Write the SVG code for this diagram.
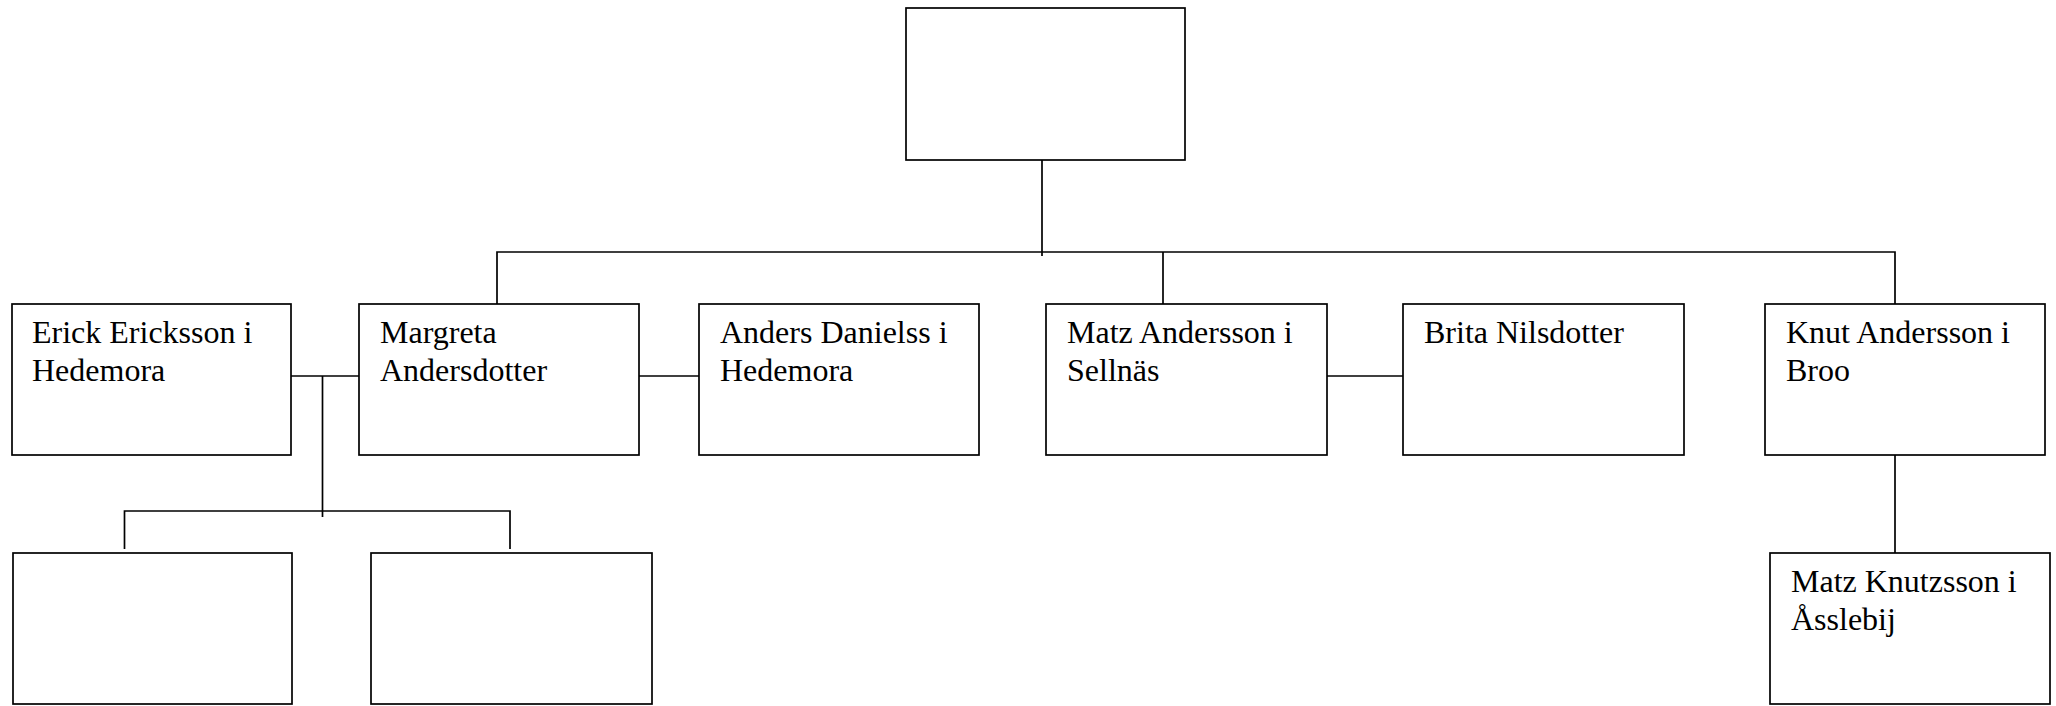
<svg xmlns="http://www.w3.org/2000/svg" width="2056" height="706" viewBox="0 0 2056 706">
<style>
.box{fill:#fff;stroke:#000;stroke-width:1.7}
.ln{fill:none;stroke:#000;stroke-width:1.7}
.t{font-family:"Liberation Serif","Times New Roman",serif;font-size:32px;fill:#000}
</style>
<rect width="2056" height="706" fill="#fff"/>
<g id="connectors">
<path class="ln" d="M1042 155V256"/>
<path class="ln" d="M497 304V252H1895V304"/>
<path class="ln" d="M1163 252V304"/>
<path class="ln" d="M291 376H359"/>
<path class="ln" d="M639 376H699"/>
<path class="ln" d="M1327 376H1403"/>
<path class="ln" d="M322.5 376V517"/>
<path class="ln" d="M124.5 549V511H510V549"/>
<path class="ln" d="M1895 450V553"/>
</g>
<g id="root"><rect class="box" x="906" y="8" width="279" height="152"/></g>
<g id="erick"><rect class="box" x="12" y="304" width="279" height="151"/><text class="t" x="32" y="343">Erick Ericksson i<tspan x="32" y="381">Hedemora</tspan></text></g>
<g id="margreta"><rect class="box" x="359" y="304" width="280" height="151"/><text class="t" x="380" y="343">Margreta<tspan x="380" y="381">Andersdotter</tspan></text></g>
<g id="anders"><rect class="box" x="699" y="304" width="280" height="151"/><text class="t" x="720" y="343">Anders Danielss i<tspan x="720" y="381">Hedemora</tspan></text></g>
<g id="matz"><rect class="box" x="1046" y="304" width="281" height="151"/><text class="t" x="1067" y="343">Matz Andersson i<tspan x="1067" y="381">Sellnäs</tspan></text></g>
<g id="brita"><rect class="box" x="1403" y="304" width="281" height="151"/><text class="t" x="1424" y="343">Brita Nilsdotter</text></g>
<g id="knut"><rect class="box" x="1765" y="304" width="280" height="151"/><text class="t" x="1786" y="343">Knut Andersson i<tspan x="1786" y="381">Broo</tspan></text></g>
<g id="child1"><rect class="box" x="13" y="553" width="279" height="151"/></g>
<g id="child2"><rect class="box" x="371" y="553" width="281" height="151"/></g>
<g id="matzk"><rect class="box" x="1770" y="553" width="280" height="151"/><text class="t" x="1791" y="592">Matz Knutzsson i<tspan x="1791" y="630">Åsslebij</tspan></text></g>
</svg>
